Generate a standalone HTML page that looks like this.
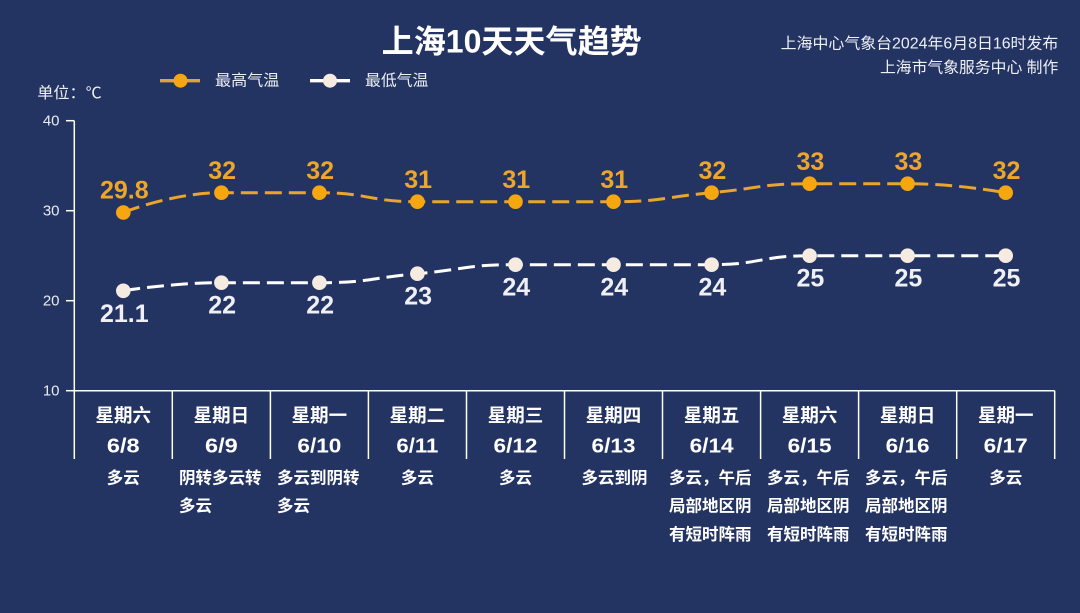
<!DOCTYPE html>
<html>
<head>
<meta charset="utf-8">
<style>
  html,body{margin:0;padding:0;background:#243462;}
  body{width:1080px;height:613px;overflow:hidden;}
  svg{display:block;}
  text{font-family:"Liberation Sans","Noto Sans CJK SC","WenQuanYi Zen Hei",sans-serif;}
</style>
</head>
<body>
<svg width="1080" height="613" viewBox="0 0 1080 613" xmlns="http://www.w3.org/2000/svg">
  <rect x="0" y="0" width="1080" height="613" fill="#243462"/>

  <!-- Title -->
  <text x="381.7" y="41.5" font-size="32" font-weight="bold" fill="#ffffff" dominant-baseline="central" textLength="260" lengthAdjust="spacingAndGlyphs">上海10天天气趋势</text>

  <!-- Right info -->
  <text x="1058.3" y="44" font-size="15.5" fill="#eef0f6" text-anchor="end" dominant-baseline="central" textLength="277.6" lengthAdjust="spacingAndGlyphs">上海中心气象台2024年6月8日16时发布</text>
  <text x="1058.3" y="68" font-size="15.5" fill="#eef0f6" text-anchor="end" dominant-baseline="central" textLength="178.3" lengthAdjust="spacingAndGlyphs">上海市气象服务中心 制作</text>

  <!-- Legend -->
  <line x1="160" y1="80.7" x2="200" y2="80.7" stroke="#dca441" stroke-width="3.3"/>
  <circle cx="180.5" cy="80.7" r="7" fill="#f6a70f"/>
  <text x="215" y="81" font-size="15.5" fill="#eef0f6" dominant-baseline="central" textLength="64.3" lengthAdjust="spacingAndGlyphs">最高气温</text>
  <line x1="310" y1="80.7" x2="350" y2="80.7" stroke="#ffffff" stroke-width="3.3"/>
  <circle cx="330" cy="80.7" r="7" fill="#f5ebe0"/>
  <text x="365" y="81" font-size="15.5" fill="#eef0f6" dominant-baseline="central" textLength="63.3" lengthAdjust="spacingAndGlyphs">最低气温</text>

  <!-- Unit -->
  <text x="37.3" y="93.3" font-size="15.5" fill="#eef0f6" dominant-baseline="central" textLength="64.4" lengthAdjust="spacingAndGlyphs">单位：℃</text>

  <!-- Y axis -->
  <g stroke="#ffffff" stroke-width="1.5" fill="none">
    <line x1="74.3" y1="120.7" x2="74.3" y2="390.7"/>
    <line x1="66" y1="120.7" x2="74.3" y2="120.7"/>
    <line x1="66" y1="210.7" x2="74.3" y2="210.7"/>
    <line x1="66" y1="300.7" x2="74.3" y2="300.7"/>
    <line x1="66" y1="390.7" x2="74.3" y2="390.7"/>
    <!-- X axis -->
    <line x1="74.3" y1="390.7" x2="1054.7" y2="390.7"/>
    <!-- separators -->
    <line x1="74.3" y1="390.7" x2="74.3" y2="459"/>
    <line x1="172.3" y1="390.7" x2="172.3" y2="459"/>
    <line x1="270.4" y1="390.7" x2="270.4" y2="459"/>
    <line x1="368.4" y1="390.7" x2="368.4" y2="459"/>
    <line x1="466.5" y1="390.7" x2="466.5" y2="459"/>
    <line x1="564.5" y1="390.7" x2="564.5" y2="459"/>
    <line x1="662.5" y1="390.7" x2="662.5" y2="459"/>
    <line x1="760.6" y1="390.7" x2="760.6" y2="459"/>
    <line x1="858.6" y1="390.7" x2="858.6" y2="459"/>
    <line x1="956.7" y1="390.7" x2="956.7" y2="459"/>
    <line x1="1054.7" y1="390.7" x2="1054.7" y2="459"/>
  </g>
  <g font-size="15" fill="#e8ebf2" text-anchor="end" dominant-baseline="central">
    <text x="59.5" y="121">40</text>
    <text x="59.5" y="211">30</text>
    <text x="59.5" y="301">20</text>
    <text x="59.5" y="391">10</text>
  </g>

  <!-- High line -->
  <path d="M123.3 212.5 C123.3 212.5 172.4 192.7 221.4 192.7 L319.4 192.7 C368.4 192.7 368.4 201.7 417.4 201.7 L515.5 201.7 L613.5 201.7 C662.5 201.7 662.6 197.2 711.6 192.7 C760.6 188.2 760.6 183.7 809.6 183.7 L907.6 183.7 C956.6 183.7 1005.7 192.7 1005.7 192.7"
        fill="none" stroke="#e9a52c" stroke-width="3" stroke-dasharray="17 7"/>
  <!-- Low line -->
  <path d="M123.3 290.8 C123.3 290.8 172.4 282.7 221.4 282.7 L319.4 282.7 C368.4 282.7 368.4 278.2 417.4 273.7 C466.4 269.2 466.5 264.7 515.5 264.7 L613.5 264.7 L711.6 264.7 C760.6 264.7 760.6 255.7 809.6 255.7 L907.6 255.7 L1005.7 255.7"
        fill="none" stroke="#ffffff" stroke-width="3" stroke-dasharray="17 7"/>

  <!-- High markers -->
  <g fill="#f6a70f">
    <circle cx="123.3" cy="212.5" r="7.3"/>
    <circle cx="221.4" cy="192.7" r="7.3"/>
    <circle cx="319.4" cy="192.7" r="7.3"/>
    <circle cx="417.4" cy="201.7" r="7.3"/>
    <circle cx="515.5" cy="201.7" r="7.3"/>
    <circle cx="613.5" cy="201.7" r="7.3"/>
    <circle cx="711.6" cy="192.7" r="7.3"/>
    <circle cx="809.6" cy="183.7" r="7.3"/>
    <circle cx="907.6" cy="183.7" r="7.3"/>
    <circle cx="1005.7" cy="192.7" r="7.3"/>
  </g>
  <!-- Low markers -->
  <g fill="#f5ebe0">
    <circle cx="123.3" cy="290.8" r="7.3"/>
    <circle cx="221.4" cy="282.7" r="7.3"/>
    <circle cx="319.4" cy="282.7" r="7.3"/>
    <circle cx="417.4" cy="273.7" r="7.3"/>
    <circle cx="515.5" cy="264.7" r="7.3"/>
    <circle cx="613.5" cy="264.7" r="7.3"/>
    <circle cx="711.6" cy="264.7" r="7.3"/>
    <circle cx="809.6" cy="255.7" r="7.3"/>
    <circle cx="907.6" cy="255.7" r="7.3"/>
    <circle cx="1005.7" cy="255.7" r="7.3"/>
  </g>

  <!-- High labels -->
  <g font-size="25" font-weight="bold" fill="#eea62a" text-anchor="middle">
    <text x="124.3" y="198.6">29.8</text>
    <text x="222.2" y="179.2">32</text>
    <text x="320.2" y="179.2">32</text>
    <text x="418.2" y="188.2">31</text>
    <text x="516.3" y="188.2">31</text>
    <text x="614.3" y="188.2">31</text>
    <text x="712.4" y="179.2">32</text>
    <text x="810.4" y="170.2">33</text>
    <text x="908.4" y="170.2">33</text>
    <text x="1006.5" y="179.2">32</text>
  </g>
  <!-- Low labels -->
  <g font-size="25" font-weight="bold" fill="#eef0f6" text-anchor="middle">
    <text x="124.3" y="321.8">21.1</text>
    <text x="222.2" y="313.7">22</text>
    <text x="320.2" y="313.7">22</text>
    <text x="418.2" y="304.7">23</text>
    <text x="516.3" y="295.7">24</text>
    <text x="614.3" y="295.7">24</text>
    <text x="712.4" y="295.7">24</text>
    <text x="810.4" y="286.7">25</text>
    <text x="908.4" y="286.7">25</text>
    <text x="1006.5" y="286.7">25</text>
  </g>

  <!-- Category: weekday -->
  <g font-size="18.5" font-weight="bold" fill="#ffffff" text-anchor="middle" dominant-baseline="central">
    <text x="123.3" y="415.7">星期六</text>
    <text x="221.4" y="415.7">星期日</text>
    <text x="319.4" y="415.7">星期一</text>
    <text x="417.4" y="415.7">星期二</text>
    <text x="515.5" y="415.7">星期三</text>
    <text x="613.5" y="415.7">星期四</text>
    <text x="711.6" y="415.7">星期五</text>
    <text x="809.6" y="415.7">星期六</text>
    <text x="907.6" y="415.7">星期日</text>
    <text x="1005.7" y="415.7">星期一</text>
  </g>
  <!-- Category: date -->
  <g font-size="20" font-weight="bold" fill="#ffffff" text-anchor="middle">
    <text x="123.3" y="452.7" textLength="32.7" lengthAdjust="spacingAndGlyphs">6/8</text>
    <text x="221.4" y="452.7" textLength="32.7" lengthAdjust="spacingAndGlyphs">6/9</text>
    <text x="319.4" y="452.7" textLength="44" lengthAdjust="spacingAndGlyphs">6/10</text>
    <text x="417.4" y="452.7" textLength="42" lengthAdjust="spacingAndGlyphs">6/11</text>
    <text x="515.5" y="452.7" textLength="44" lengthAdjust="spacingAndGlyphs">6/12</text>
    <text x="613.5" y="452.7" textLength="44" lengthAdjust="spacingAndGlyphs">6/13</text>
    <text x="711.6" y="452.7" textLength="44" lengthAdjust="spacingAndGlyphs">6/14</text>
    <text x="809.6" y="452.7" textLength="44" lengthAdjust="spacingAndGlyphs">6/15</text>
    <text x="907.6" y="452.7" textLength="44" lengthAdjust="spacingAndGlyphs">6/16</text>
    <text x="1005.7" y="452.7" textLength="44" lengthAdjust="spacingAndGlyphs">6/17</text>
  </g>
  <!-- Weather -->
  <g font-size="16.5" font-weight="bold" fill="#ffffff" dominant-baseline="central">
    <text x="123.3" y="478.3" text-anchor="middle">多云</text>

    <text x="179" y="478.3">阴转多云转</text>
    <text x="179" y="506.7">多云</text>

    <text x="277" y="478.3">多云到阴转</text>
    <text x="277" y="506.7">多云</text>

    <text x="417.4" y="478.3" text-anchor="middle">多云</text>
    <text x="515.5" y="478.3" text-anchor="middle">多云</text>
    <text x="614.5" y="478.3" text-anchor="middle">多云到阴</text>

    <text x="669" y="478.3">多云，午后</text>
    <text x="669" y="506.7">局部地区阴</text>
    <text x="669" y="535">有短时阵雨</text>

    <text x="767" y="478.3">多云，午后</text>
    <text x="767" y="506.7">局部地区阴</text>
    <text x="767" y="535">有短时阵雨</text>

    <text x="865" y="478.3">多云，午后</text>
    <text x="865" y="506.7">局部地区阴</text>
    <text x="865" y="535">有短时阵雨</text>

    <text x="1005.7" y="478.3" text-anchor="middle">多云</text>
  </g>
</svg>
</body>
</html>
